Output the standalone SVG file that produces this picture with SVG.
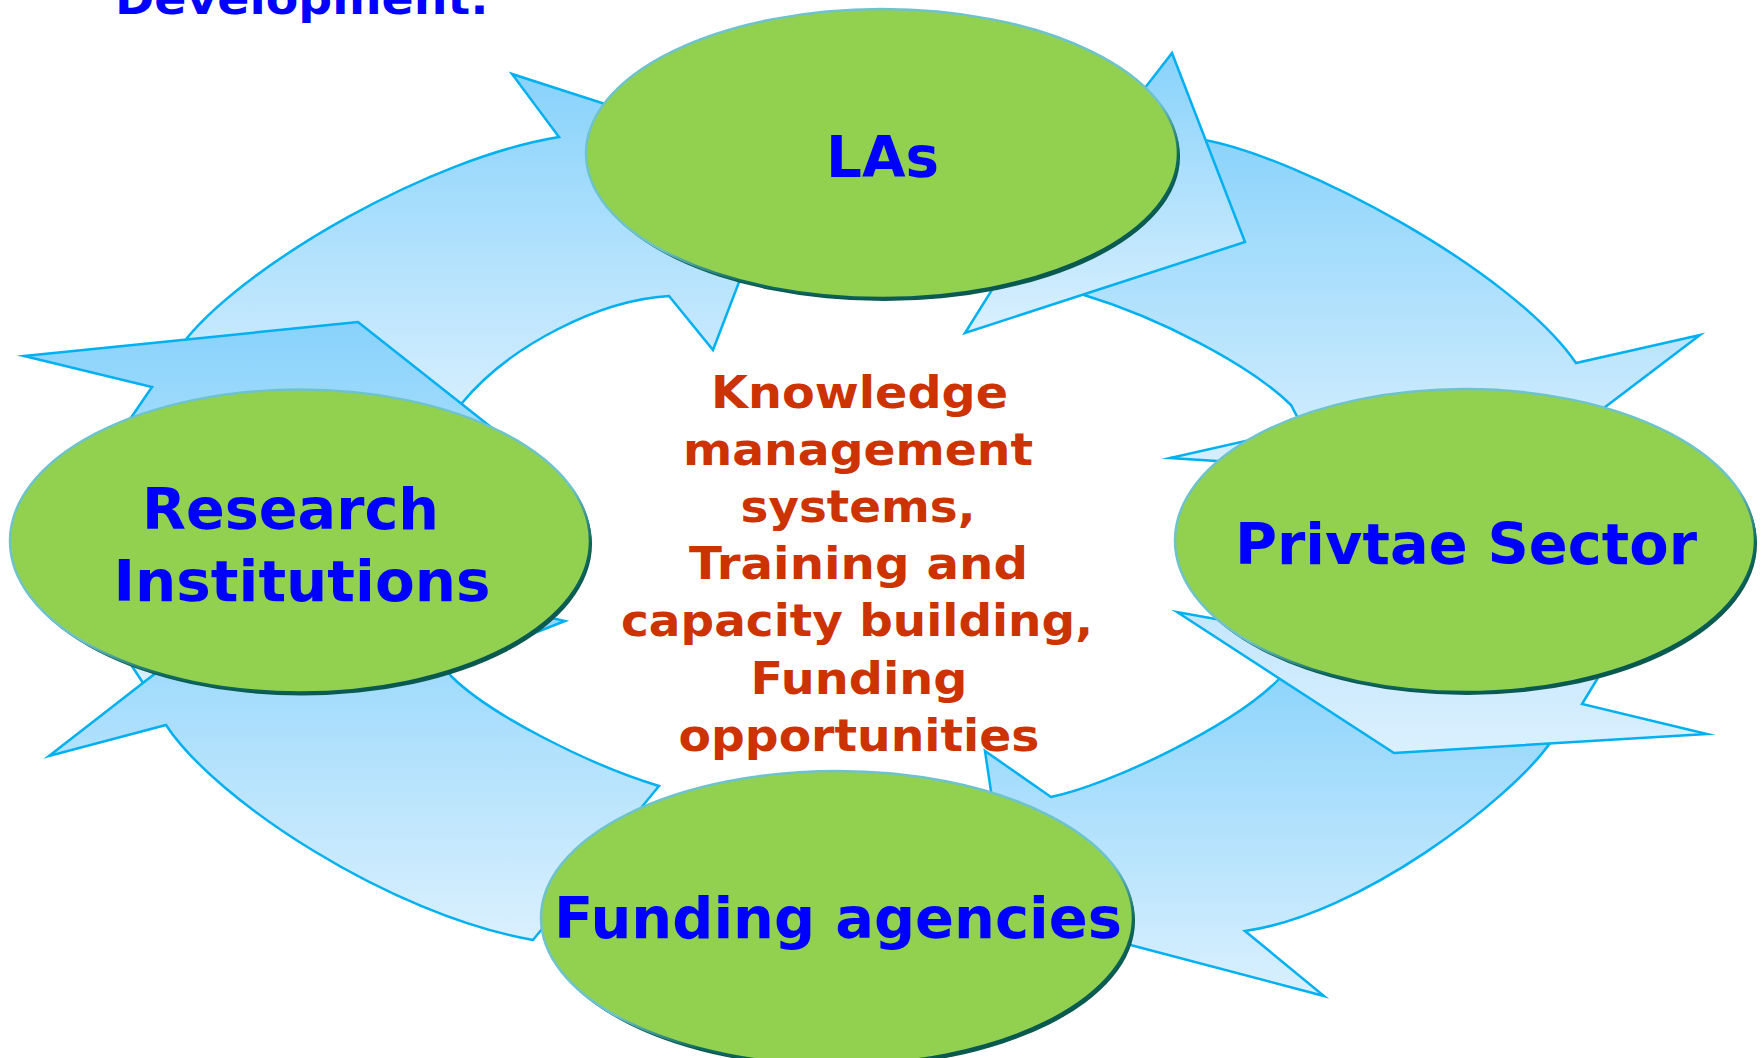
<svg xmlns="http://www.w3.org/2000/svg" width="1762" height="1058" viewBox="0 0 1762 1058">
<defs>
<linearGradient id="ag" x1="0" y1="0" x2="0" y2="1">
<stop offset="0" stop-color="#88D2FB"/>
<stop offset="1" stop-color="#DAF0FE"/>
</linearGradient>
<linearGradient id="agl" x1="0" y1="0" x2="0" y2="1">
<stop offset="0" stop-color="#C4E6FD"/>
<stop offset="1" stop-color="#DAF0FE"/>
</linearGradient>
<linearGradient id="es" x1="0.2" y1="0" x2="0.8" y2="1">
<stop offset="0" stop-color="#6DC3CA"/>
<stop offset="0.58" stop-color="#6DC3CA"/>
<stop offset="0.72" stop-color="#0F6A5E"/>
<stop offset="1" stop-color="#075249"/>
</linearGradient>
<style>
.arrow{fill:url(#ag);stroke:#00B0F0;stroke-width:2.5;stroke-linejoin:miter;stroke-miterlimit:10}
.arrow.light{fill:url(#agl)}
.shadow{fill:#0A5A50}
.body{fill:#92D050;stroke:url(#es);stroke-width:2.5}
.label{font-family:"DejaVu Sans",Verdana,sans-serif;font-weight:bold;font-size:57px;fill:#0000FF;text-anchor:middle}
.center{font-family:"DejaVu Sans",Verdana,sans-serif;font-weight:bold;font-size:44px;fill:#CC3300;text-anchor:middle}
.title{font-family:"DejaVu Sans",Verdana,sans-serif;font-weight:bold;font-size:44px;fill:#0000FF}
</style>
</defs>
<rect width="1762" height="1058" fill="#FFFFFF"/>
<text class="title" x="115" y="14" textLength="374" lengthAdjust="spacingAndGlyphs">Development:</text>
<g id="connectors">
<path id="arrow-research-las" class="arrow" d="M165,420 L165,400 L187,338 C250,262 430,158 559,137 L512,74 L785,162 L713,350 L669,296 C600,300 510,345 462,403 L440,430 Z"/>
<path id="stub-research" class="arrow" d="M24,356 L358,322 L520,450 L300,600 L170,665 L143,683 L128,660 L120,540 L126,425 L152,387 Z"/>
<path id="arrow-funding-research" class="arrow" d="M300,561 L49,756 L166,725 C215,800 390,915 533,940 L659,786 C590,765 490,715 451,676 L445,668 L565,621 Z"/>
<path id="arrow-las-private" class="arrow" d="M1150,125 L1205,140 C1300,158 1510,268 1576,363 L1700,335 L1509,480 L1170,458 L1303,428 L1291,405 C1250,365 1160,318 1084,295 L1000,270 Z"/>
<path id="stub-las" class="arrow" d="M1172,53 L1245,242 L965,333 L1020,245 L1060,190 L1110,133 Z"/>
<path id="arrow-private-funding" class="arrow" d="M1520,650 L1550,743 C1510,800 1360,915 1245,931 L1324,996 L1009,913 L985,751 L1051,797 C1110,785 1235,725 1280,678 L1300,650 Z"/>
<path id="stub-private" class="arrow light" d="M1177,612 L1394,753 L1707,734 L1582,704 L1610,658 L1450,620 L1260,627 Z"/>
</g>
<g id="node-las">
<ellipse class="shadow" cx="884" cy="156.5" rx="296" ry="144.5"/>
<ellipse class="body" cx="882" cy="153.5" rx="296" ry="144.5"/>
<text class="label" x="882.5" y="177" textLength="113" lengthAdjust="spacingAndGlyphs">LAs</text>
</g>
<g id="node-research">
<ellipse class="shadow" cx="302" cy="544" rx="290" ry="151.5"/>
<ellipse class="body" cx="300" cy="541" rx="290" ry="151.5"/>
<text class="label" x="290.5" y="529" textLength="297" lengthAdjust="spacingAndGlyphs">Research</text>
<text class="label" x="302" y="600.5" textLength="377" lengthAdjust="spacingAndGlyphs">Institutions</text>
</g>
<g id="node-private">
<ellipse class="shadow" cx="1467" cy="543.5" rx="290" ry="151.5"/>
<ellipse class="body" cx="1465" cy="540.5" rx="290" ry="151.5"/>
<text class="label" x="1466" y="564" textLength="462" lengthAdjust="spacingAndGlyphs">Privtae Sector</text>
</g>
<g id="node-funding">
<ellipse class="shadow" cx="839" cy="921" rx="296" ry="147"/>
<ellipse class="body" cx="837" cy="918" rx="296" ry="147"/>
<text class="label" x="838" y="938" textLength="568" lengthAdjust="spacingAndGlyphs">Funding agencies</text>
</g>
<g id="center-text">
<text class="center" x="859.5" y="407.5" textLength="297" lengthAdjust="spacingAndGlyphs">Knowledge</text>
<text class="center" x="858" y="465" textLength="350" lengthAdjust="spacingAndGlyphs">management</text>
<text class="center" x="858" y="522" textLength="235" lengthAdjust="spacingAndGlyphs">systems,</text>
<text class="center" x="858.5" y="579" textLength="339" lengthAdjust="spacingAndGlyphs">Training and</text>
<text class="center" x="857" y="636" textLength="472" lengthAdjust="spacingAndGlyphs">capacity building,</text>
<text class="center" x="859" y="693.5" textLength="217" lengthAdjust="spacingAndGlyphs">Funding</text>
<text class="center" x="859" y="751" textLength="361" lengthAdjust="spacingAndGlyphs">opportunities</text>
</g>
</svg>
